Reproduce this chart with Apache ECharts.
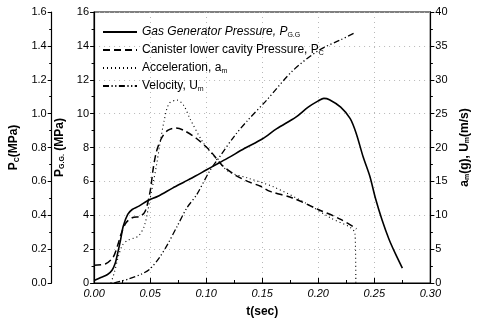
<!DOCTYPE html>
<html>
<head>
<meta charset="utf-8">
<script src="https://cdn.jsdelivr.net/npm/echarts@6/dist/echarts.min.js"></script>
<style>
  html, body { margin: 0; padding: 0; background: #fff; }
  #chart { width: 479px; height: 323px; }
</style>
</head>
<body>
<div id="chart"></div>
<script>
// Gas generator pressure P_G.G (MPa)
const tGG = [0, 0.006, 0.012, 0.016, 0.019, 0.021, 0.0235, 0.026, 0.03, 0.034, 0.04, 0.048, 0.057,
             0.07, 0.08, 0.09, 0.1, 0.111, 0.12, 0.134, 0.15, 0.163, 0.18, 0.191, 0.2, 0.205, 0.21,
             0.22, 0.2285, 0.234, 0.24, 0.246, 0.251, 0.257, 0.263, 0.269, 0.275];
const pGG = [0.15, 0.32, 0.5, 0.75, 1.2, 1.75, 2.5, 3.35, 4.05, 4.34, 4.54, 4.87, 5.12,
             5.6, 5.95, 6.3, 6.67, 7.07, 7.4, 7.94, 8.5, 9.11, 9.79, 10.38, 10.75, 10.9, 10.82,
             10.38, 9.7, 8.8, 7.45, 6.3, 5.0, 3.7, 2.6, 1.7, 0.88];

// Canister lower cavity pressure P_C (MPa)
const tC = [0, 0.01, 0.017, 0.0214, 0.024, 0.0285, 0.034, 0.0414, 0.0457, 0.05, 0.0528, 0.0556,
            0.06, 0.0657, 0.0728, 0.08, 0.0914, 0.103, 0.114, 0.1257, 0.137, 0.1485, 0.157,
            0.177, 0.2, 0.22, 0.234];
const pC = [0.105, 0.112, 0.152, 0.23, 0.288, 0.356, 0.385, 0.395, 0.425, 0.541, 0.678, 0.775,
            0.853, 0.901, 0.915, 0.901, 0.853, 0.784, 0.697, 0.638, 0.6, 0.571, 0.541,
            0.502, 0.434, 0.376, 0.32];

// Acceleration a_m (g)
const tAcc = [0.015, 0.018, 0.021, 0.025, 0.03, 0.035, 0.04, 0.045, 0.05, 0.0557, 0.0585, 0.0628,
              0.067, 0.0742, 0.08, 0.0857, 0.097, 0.1085, 0.12, 0.137, 0.16, 0.191, 0.211,
              0.2285, 0.2328, 0.2335];
const acc = [0, 1.5, 3.5, 5.5, 6.3, 6.6, 7.0, 8.5, 12.5, 17.4, 20.3, 24.2,
             26.5, 27.0, 26.2, 24.2, 20.8, 18.4, 16.45, 15.5, 14.2, 11.6, 9.6,
             8.2, 7.3, 0];

// Velocity U_m (m/s)
const tVel = [0.018, 0.031, 0.0428, 0.05, 0.0585, 0.0657, 0.0742, 0.0828, 0.0914, 0.1028, 0.111,
              0.1257, 0.137, 0.154, 0.177, 0.2, 0.22, 0.2335];
const vel = [0, 0.6, 1.36, 2.1, 3.8, 5.74, 8.4, 11.1, 13.0, 16.45, 18.4,
             21.8, 24.0, 27.0, 31.3, 34.3, 35.9, 37.0];

const names = ['Gas Generator Pressure', 'Canister lower cavity Pressure', 'Acceleration', 'Velocity'];

const pairs = (xs, ys) => xs.map((x, i) => [x, ys[i]]);
const FONT = 'Liberation Sans, Arial, sans-serif';

const subRich = {
  b: { fontFamily: FONT, fontWeight: 'bold', fontSize: 12, color: '#000' },
  s: { fontFamily: FONT, fontWeight: 'bold', fontSize: 7, color: '#000', padding: [6, 0, 0, 0] }
};

const legendRich = {
  n: { fontFamily: FONT, fontSize: 12, color: '#000' },
  i: { fontFamily: FONT, fontSize: 12, fontStyle: 'italic', color: '#000' },
  s: { fontFamily: FONT, fontSize: 7, color: '#000', padding: [7, 0, 0, 0] }
};

const legendText = {
  'Gas Generator Pressure': '{i|Gas Generator Pressure, P}{s|G.G}',
  'Canister lower cavity Pressure': '{n|Canister lower cavity Pressure, P}{s|C}',
  'Acceleration': '{n|Acceleration, a}{s|m}',
  'Velocity': '{n|Velocity, U}{s|m}'
};

const chart = echarts.init(document.getElementById('chart'), null, { renderer: 'canvas' });

const axisLineBlack = { show: true, lineStyle: { color: '#000', width: 1.2 } };
const tickOut = { show: true, inside: false, length: 4, lineStyle: { color: '#000' } };
const minorOut = { show: true, splitNumber: 2, length: 2.5, lineStyle: { color: '#000' } };
const gridDots = { show: true, lineStyle: { color: '#b8b8b8', type: [1, 4], width: 1 } };

chart.setOption({
  animation: false,
  backgroundColor: '#fff',
  grid: {
    left: 93.4, right: 35.6, top: 12, bottom: 37,
    show: true, borderColor: '#000', borderWidth: 1.2, backgroundColor: 'transparent'
  },
  legend: {
    orient: 'vertical',
    left: 97, top: 21,
    itemWidth: 34, itemHeight: 12, itemGap: 5,
    data: names,
    // line-only keys: the marker drawn on top of each sample line is made invisible
    itemStyle: { color: 'rgba(0,0,0,0)', borderColor: 'rgba(0,0,0,0)', borderWidth: 0 },
    formatter: name => legendText[name],
    textStyle: { rich: legendRich }
  },
  xAxis: {
    type: 'value',
    min: 0, max: 0.3, interval: 0.05,
    name: 't(sec)',
    nameLocation: 'middle', nameGap: 23,
    nameTextStyle: { fontFamily: FONT, fontWeight: 'bold', fontSize: 12, color: '#000' },
    axisLine: axisLineBlack,
    axisTick: { show: true, inside: true, length: 5, lineStyle: { color: '#000' } },
    minorTick: { show: true, splitNumber: 2, length: 3, lineStyle: { color: '#000' } },
    axisLabel: {
      fontFamily: FONT, fontSize: 11, fontStyle: 'italic', color: '#000', margin: 5,
      formatter: v => v.toFixed(2)
    },
    splitLine: gridDots
  },
  yAxis: [
    {
      type: 'value', position: 'left', offset: 0,
      min: 0, max: 16, interval: 2,
      name: '{b|P}{s|G.G.}{b| (MPa)}',
      nameLocation: 'middle', nameRotate: 90, nameGap: 19,
      nameTextStyle: { rich: subRich },
      axisLine: axisLineBlack,
      axisTick: tickOut,
      minorTick: minorOut,
      axisLabel: { fontFamily: FONT, fontSize: 11, color: '#000', margin: 5 },
      splitLine: gridDots
    },
    {
      type: 'value', position: 'left', offset: 42.4,
      min: 0, max: 1.6, interval: 0.2,
      name: '{b|P}{s|C}{b|(MPa)}',
      nameLocation: 'middle', nameRotate: 90, nameGap: 28,
      nameTextStyle: { rich: subRich },
      axisLine: axisLineBlack,
      axisTick: tickOut,
      minorTick: minorOut,
      axisLabel: { fontFamily: FONT, fontSize: 11, color: '#000', margin: 5, formatter: v => v.toFixed(1) },
      splitLine: { show: false }
    },
    {
      type: 'value', position: 'right', offset: 0,
      min: 0, max: 40, interval: 5,
      name: '{b|a}{s|m}{b|(g), U}{s|m}{b|(m/s)}',
      nameLocation: 'middle', nameRotate: 90, nameGap: 22,
      nameTextStyle: { rich: subRich },
      axisLine: axisLineBlack,
      axisTick: tickOut,
      minorTick: minorOut,
      axisLabel: { fontFamily: FONT, fontSize: 11, color: '#000', margin: 5 },
      splitLine: { show: false }
    }
  ],
  series: [
    {
      name: names[0], type: 'line', yAxisIndex: 0, symbol: 'none', smooth: 0.3,
      lineStyle: { color: '#000', width: 1.6, type: 'solid' },
      itemStyle: { color: '#000' },
      data: pairs(tGG, pGG)
    },
    {
      name: names[1], type: 'line', yAxisIndex: 1, symbol: 'none', smooth: 0.3,
      lineStyle: { color: '#000', width: 1.5, type: [7, 4] },
      itemStyle: { color: '#000' },
      data: pairs(tC, pC)
    },
    {
      name: names[2], type: 'line', yAxisIndex: 2, symbol: 'none', smooth: 0.3,
      lineStyle: { color: '#000', width: 1.1, type: [1, 3] },
      itemStyle: { color: '#000' },
      data: pairs(tAcc, acc)
    },
    {
      name: names[3], type: 'line', yAxisIndex: 2, symbol: 'none', smooth: 0.3,
      lineStyle: { color: '#000', width: 1.3, type: [6, 2.5, 1.2, 2.5, 1.2, 2.5] },
      itemStyle: { color: '#000' },
      data: pairs(tVel, vel)
    }
  ]
});
</script>
</body>
</html>
